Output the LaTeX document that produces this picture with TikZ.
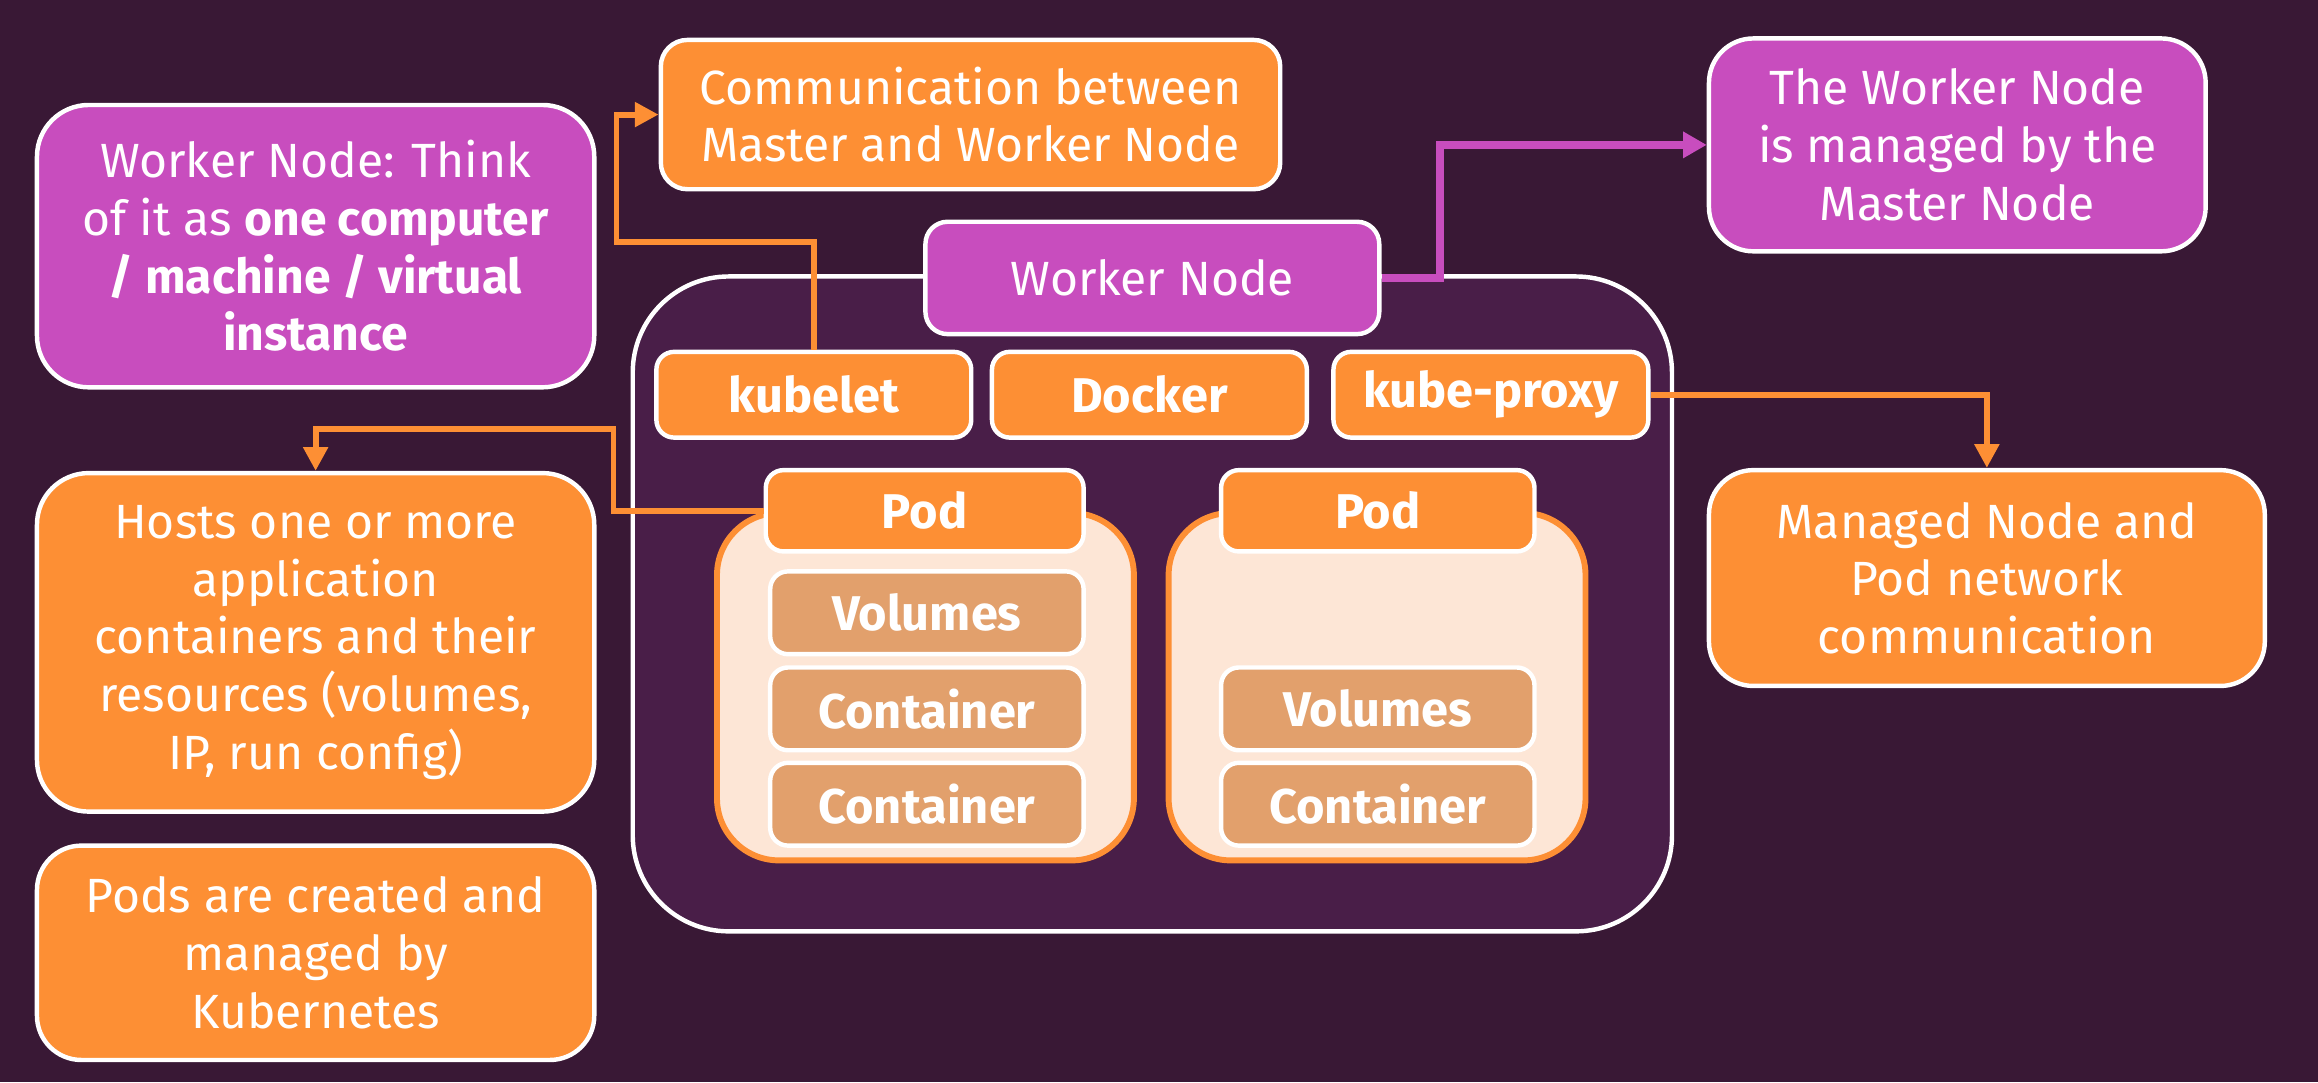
\documentclass[tikz,border=0pt]{standalone}
\usepackage{fontspec}
\setmainfont{Fira Sans}
\usetikzlibrary{arrows.meta}
\definecolor{bgc}{RGB}{57,24,53}
\definecolor{bigc}{RGB}{73,30,72}
\definecolor{orng}{RGB}{253,143,52}
\definecolor{magc}{RGB}{200,77,190}
\definecolor{peach}{RGB}{253,230,214}
\definecolor{tan}{RGB}{226,160,108}
\tikzset{
  box/.style={draw=white, line width=3pt, align=center, text=white, inner sep=0pt,
    font=\fontsize{32.5}{39}\selectfont},
  obox/.style={box, fill=orng},
  mbox/.style={box, fill=magc},
  lbl/.style={box, fill=orng, rounded corners=12pt, minimum width=213pt, minimum height=58pt,
    font=\fontsize{33}{38}\selectfont\bfseries},
  tbox/.style={lbl, fill=tan, minimum width=212pt, minimum height=56pt},
  podbg/.style={draw=orng, line width=4pt, fill=peach, rounded corners=42pt,
    minimum width=282pt, minimum height=235pt, inner sep=0pt},
  oarrow/.style={draw=orng, line width=4pt, -{Triangle[length=16pt,width=16pt]}},
  marrow/.style={draw=magc, line width=5pt, -{Triangle[length=16pt,width=17pt]}},
}
\begin{document}
\begin{tikzpicture}[x=1pt,y=-1pt]
\fill[bgc] (0,0) rectangle (1568,732);
\useasboundingbox (0,0) rectangle (1568,732);

% big worker box
\node[draw=white, line width=3pt, fill=bigc, rounded corners=65pt,
  minimum width=703pt, minimum height=443pt, inner sep=0pt] (big) at (779.5,408.5) {};

% callouts
\node[obox, rounded corners=18pt, minimum width=419pt, minimum height=101pt] (comm) at (656.5,77.5)
  {Communication between\\Master and Worker Node};
\node[mbox, rounded corners=35pt, minimum width=377pt, minimum height=191pt] (think) at (213.5,166.5)
  {Worker Node: Think\\of it as \textbf{one computer}\\\textbf{/ machine / virtual}\\\textbf{instance}};
\node[mbox, rounded corners=30pt, minimum width=336pt, minimum height=144pt] (managed) at (1324,98)
  {The Worker Node\\is managed by the\\Master Node};
\node[obox, rounded corners=35pt, minimum width=377pt, minimum height=229pt] (hosts) at (213.5,434.5)
  {Hosts one or more\\application\\containers and their\\resources (volumes,\\IP, run config)};
\node[obox, rounded corners=30pt, minimum width=377pt, minimum height=145pt] (pods) at (213.5,644.5)
  {Pods are created and\\managed by\\Kubernetes};
\node[obox, rounded corners=30pt, minimum width=376pt, minimum height=146pt] (mnode) at (1344,391)
  {Managed Node and\\Pod network\\communication};

% worker node label
\node[mbox, rounded corners=15pt, minimum width=307pt, minimum height=76pt] (wnlabel) at (779.5,188)
  {Worker Node};

% components
\node[lbl] (kubelet) at (550.5,267) {kubelet};
\node[lbl] (docker) at (777.5,267) {Docker};
\node[lbl] (kubeproxy) at (1008.5,267) {kube-proxy};

% pods
\node[podbg] (pod1bg) at (626,464.5) {};
\node[podbg] (pod2bg) at (931.5,464.5) {};
\node[lbl, minimum width=215pt, minimum height=55pt] (pod1) at (625.5,345.5) {Pod};
\node[lbl, minimum width=212pt, minimum height=55pt] (pod2) at (932,345.5) {Pod};
\node[tbox] (vol1) at (627,414.5) {Volumes};
\node[tbox] (cont1a) at (627,479.5) {Container};
\node[tbox] (cont1b) at (627,544) {Container};
\node[tbox] (vol2) at (932,479.5) {Volumes};
\node[tbox] (cont2) at (932,544) {Container};

% connectors
\coordinate (kb1) at (417,164);
\draw[oarrow] (kubelet.north) |- (kb1) |- (comm.west);
\coordinate (pb1) at (415,290);
\draw[oarrow] (pod1.west) -| (pb1) -| (hosts.north);
\coordinate (wb1) at (974,98);
\draw[marrow] (wnlabel.east) -| (wb1) -- (managed.west);
\draw[oarrow] (kubeproxy.east) -| (mnode.north);
\end{tikzpicture}
\end{document}
